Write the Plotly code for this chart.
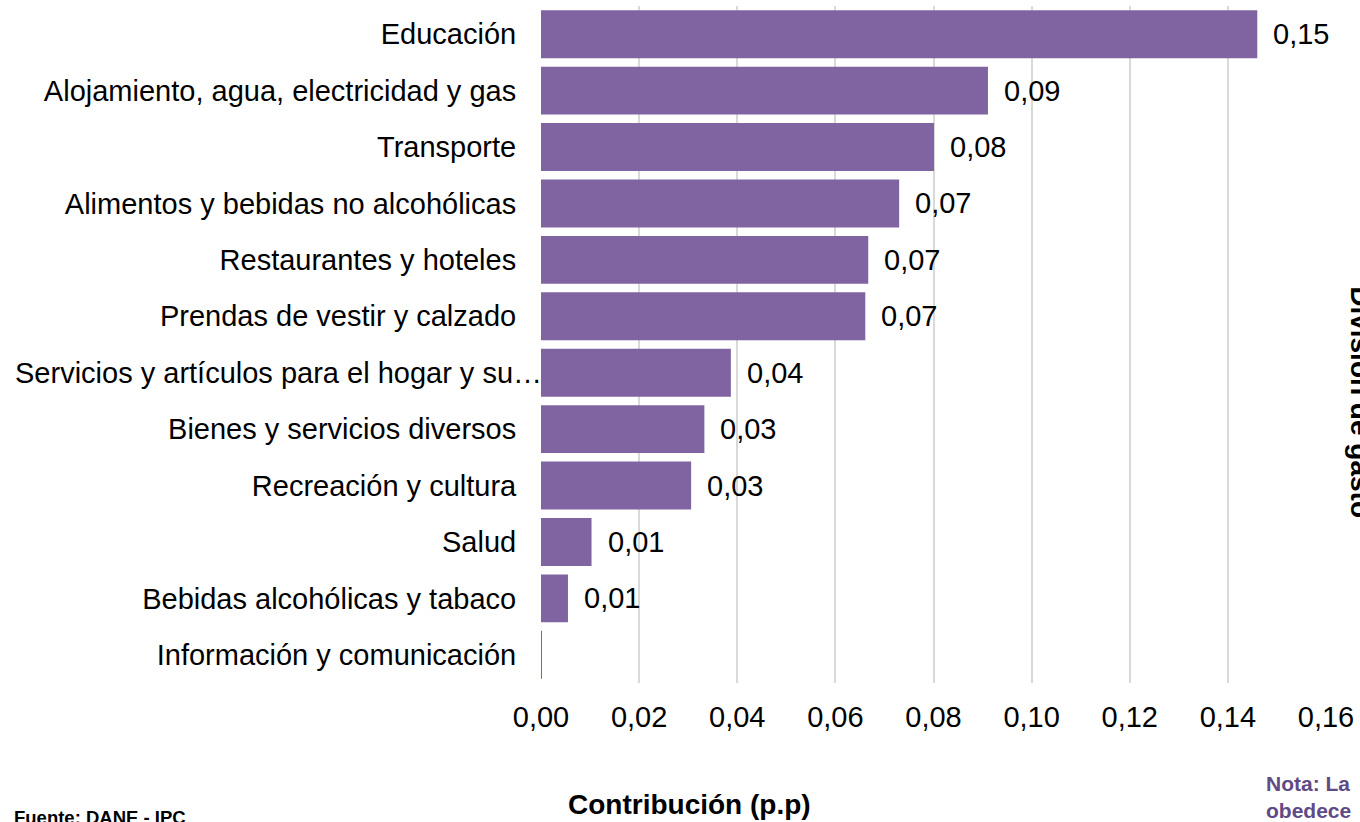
import plotly.graph_objects as go

categories = [
    "Educación",
    "Alojamiento, agua, electricidad y gas",
    "Transporte",
    "Alimentos y bebidas no alcohólicas",
    "Restaurantes y hoteles",
    "Prendas de vestir y calzado",
    "Servicios y artículos para el hogar y su…",
    "Bienes y servicios diversos",
    "Recreación y cultura",
    "Salud",
    "Bebidas alcohólicas y tabaco",
    "Información y comunicación",
]
values = [0.146, 0.0911, 0.0801, 0.0730, 0.0667, 0.0661, 0.0387, 0.0333, 0.0306, 0.0103, 0.0055, 0.0002]
value_labels = ["0,15", "0,09", "0,08", "0,07", "0,07", "0,07", "0,04", "0,03", "0,03", "0,01", "0,01", ""]
x_tickvals = [0, 0.02, 0.04, 0.06, 0.08, 0.10, 0.12, 0.14, 0.16]
x_ticktext = ["0,00", "0,02", "0,04", "0,06", "0,08", "0,10", "0,12", "0,14", "0,16"]

FONT = "Liberation Sans, Arial, sans-serif"
BAR = "#8064a2"
W, H = 1360, 822
L, R, T, B = 541, 30, 6, 139
PW, PH = W - L - R, H - T - B


def px(p):
    return (p - L) / PW


def py(q):
    return (H - B - q) / PH


long_label = "Servicios y artículos para el hogar y su…"
tick_display = ["" if c == long_label else c for c in categories]

fig = go.Figure()
fig.add_trace(go.Bar(
    x=values, y=categories, orientation="h",
    marker=dict(color=BAR, line=dict(width=0)),
    hoverinfo="skip",
))

annotations = []
for c, v, t in zip(categories, values, value_labels):
    if t:
        annotations.append(dict(x=v, y=c, xref="x", yref="y", text=t, showarrow=False,
                                xanchor="left", yanchor="middle", xshift=14,
                                font=dict(family=FONT, size=29, color="#000000")))

annotations.append(dict(x=px(10), y=long_label, xref="paper", yref="y",
                        text=long_label, showarrow=False, xanchor="left", yanchor="middle",
                        font=dict(family=FONT, size=29, color="#000000")))

annotations += [
    dict(x=px(690), y=py(804), xref="paper", yref="paper", text="<b>Contribución (p.p)</b>",
         showarrow=False, xanchor="center", yanchor="middle",
         font=dict(family=FONT, size=28, color="#000000")),
    dict(x=px(9), y=py(817), xref="paper", yref="paper", text="<b>Fuente: DANE - IPC</b>",
         showarrow=False, xanchor="left", yanchor="middle",
         font=dict(family=FONT, size=18.5, color="#000000")),
    dict(x=px(1268), y=py(797), xref="paper", yref="paper", text="<b>Nota: La<br>obedece</b>",
         showarrow=False, xanchor="left", yanchor="middle", align="left",
         font=dict(family=FONT, size=21, color="#5f4a86")),
    dict(x=px(1365), y=py(402), xref="paper", yref="paper", text="<b>División de gasto</b>",
         showarrow=False, xanchor="center", yanchor="middle", textangle=90,
         font=dict(family=FONT, size=28, color="#000000")),
]

fig.update_layout(
    width=W, height=H,
    margin=dict(l=L, r=R, t=T, b=B, pad=0),
    paper_bgcolor="white", plot_bgcolor="white",
    bargap=0.15, showlegend=False,
    font=dict(family=FONT, size=29, color="#000000"),
    annotations=annotations,
    xaxis=dict(range=[0, 0.16], tickvals=x_tickvals, ticktext=x_ticktext,
               showgrid=True, gridcolor="#d9d9d9", gridwidth=1.5,
               zeroline=False, showline=False,
               ticks="outside", ticklen=8, tickcolor="rgba(0,0,0,0)",
               tickfont=dict(family=FONT, size=29, color="#000000"), fixedrange=True),
    yaxis=dict(categoryorder="array", categoryarray=categories[::-1],
               tickmode="array", tickvals=categories, ticktext=tick_display,
               showgrid=False, zeroline=False, showline=False,
               ticks="outside", ticklen=18, tickcolor="rgba(0,0,0,0)",
               tickfont=dict(family=FONT, size=29, color="#000000"), fixedrange=True),
)

fig.write_html("out.html", config={"displayModeBar": False},
               post_script="document.body.style.margin='0';document.body.style.overflow='hidden';")
